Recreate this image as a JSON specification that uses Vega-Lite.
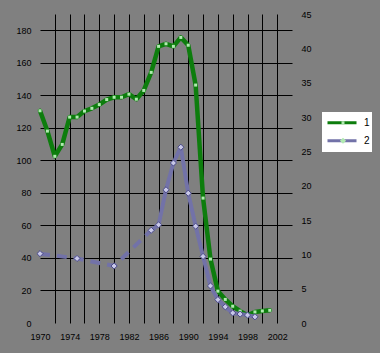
{
  "$schema": "https://vega.github.io/schema/vega-lite/v6.json",
  "width": 252,
  "height": 309,
  "autosize": "none",
  "padding": {"left": 40, "top": 14, "right": 88, "bottom": 30},
  "background": "#808080",
  "config": {
    "view": {"stroke": null, "fill": "#808080"},
    "font": "Liberation Sans",
    "axis": {"labelFont": "Liberation Sans", "labelFontSize": 9, "labelColor": "#000000", "ticks": false, "domain": false, "title": null},
    "legend": {"labelFont": "Liberation Sans"}
  },
  "datasets": {
    "g": [
      {"year": 1970, "v": 130.5, "series": "1"},
      {"year": 1971, "v": 118, "series": "1"},
      {"year": 1972, "v": 102.5, "series": "1"},
      {"year": 1973, "v": 109.8, "series": "1"},
      {"year": 1974, "v": 126.6, "series": "1"},
      {"year": 1975, "v": 126.6, "series": "1"},
      {"year": 1976, "v": 130.3, "series": "1"},
      {"year": 1977, "v": 132, "series": "1"},
      {"year": 1978, "v": 134.3, "series": "1"},
      {"year": 1979, "v": 137.4, "series": "1"},
      {"year": 1980, "v": 138.8, "series": "1"},
      {"year": 1981, "v": 138.8, "series": "1"},
      {"year": 1982, "v": 140.7, "series": "1"},
      {"year": 1983, "v": 137.6, "series": "1"},
      {"year": 1984, "v": 143, "series": "1"},
      {"year": 1985, "v": 154.1, "series": "1"},
      {"year": 1986, "v": 170.1, "series": "1"},
      {"year": 1987, "v": 171.7, "series": "1"},
      {"year": 1988, "v": 170.1, "series": "1"},
      {"year": 1989, "v": 175.6, "series": "1"},
      {"year": 1990, "v": 170.8, "series": "1"},
      {"year": 1991, "v": 146.3, "series": "1"},
      {"year": 1992, "v": 76.8, "series": "1"},
      {"year": 1993, "v": 39.3, "series": "1"},
      {"year": 1994, "v": 19.6, "series": "1"},
      {"year": 1995, "v": 14.5, "series": "1"},
      {"year": 1996, "v": 10.3, "series": "1"},
      {"year": 1997, "v": 7.3, "series": "1"},
      {"year": 1998, "v": 4.8, "series": "1"},
      {"year": 1999, "v": 6.8, "series": "1"},
      {"year": 2000, "v": 7.4, "series": "1"},
      {"year": 2001, "v": 7.8, "series": "1"}
    ],
    "b": [
      {"year": 1970, "v": 10.1, "series": "2"},
      {"year": 1975, "v": 9.4, "series": "2"},
      {"year": 1980, "v": 8.3, "series": "2"},
      {"year": 1985, "v": 13.5, "series": "2"},
      {"year": 1986, "v": 14.3, "series": "2"},
      {"year": 1987, "v": 19.4, "series": "2"},
      {"year": 1988, "v": 23.3, "series": "2"},
      {"year": 1989, "v": 25.6, "series": "2"},
      {"year": 1990, "v": 18.9, "series": "2"},
      {"year": 1991, "v": 14.1, "series": "2"},
      {"year": 1992, "v": 9.7, "series": "2"},
      {"year": 1993, "v": 5.4, "series": "2"},
      {"year": 1994, "v": 3.4, "series": "2"},
      {"year": 1995, "v": 2.35, "series": "2"},
      {"year": 1996, "v": 1.46, "series": "2"},
      {"year": 1997, "v": 1.3, "series": "2"},
      {"year": 1998, "v": 1.15, "series": "2"},
      {"year": 1999, "v": 0.9, "series": "2"}
    ]
  },
  "encoding": {
    "x": {
      "field": "year", "type": "quantitative",
      "scale": {"domain": [1970, 2004], "nice": false, "zero": false},
      "axis": {
        "values": [1970, 1972, 1974, 1976, 1978, 1980, 1982, 1984, 1986, 1988, 1990, 1992, 1994, 1996, 1998, 2000, 2002],
        "format": "d",
        "labelExpr": "datum.value % 4 == 2 ? datum.label : ''",
        "labelFlush": false,
        "labelOverlap": false,
        "labelPadding": 9,
        "grid": true,
        "gridColor": "#000000",
        "gridWidth": 1,
        "gridOpacity": {"condition": {"test": "datum.value == 1970", "value": 0}, "value": 1}
      }
    }
  },
  "layer": [
    {
      "data": {"name": "g"},
      "encoding": {
        "y": {
          "field": "v", "type": "quantitative",
          "scale": {"domain": [0, 190], "nice": false},
          "axis": {
            "orient": "left",
            "values": [0, 20, 40, 60, 80, 100, 120, 140, 160, 180],
            "format": "d",
            "labelPadding": 9,
            "grid": true,
            "gridColor": "#000000",
            "gridWidth": 1,
            "gridOpacity": {"condition": {"test": "datum.value == 0", "value": 0}, "value": 1}
          }
        }
      },
      "layer": [
        {
          "mark": {"type": "line", "strokeWidth": 4.5, "strokeJoin": "round", "strokeCap": "round"},
          "encoding": {
            "color": {
              "field": "series", "type": "nominal",
              "scale": {"domain": ["1", "2"], "range": ["#0d7d0d", "#7272a8"]},
              "legend": {
                "orient": "none", "legendX": 282, "legendY": 98, "title": null,
                "fillColor": "#ffffff", "padding": 2, "symbolType": "stroke", "symbolSize": 841,
                "symbolStrokeWidth": 3, "symbolOffset": 2, "labelFontSize": 10, "labelColor": "#000000",
                "labelOffset": 6, "clipHeight": 17.5, "rowPadding": 0, "values": ["1", "2"],
                "encode": {"symbols": {"update": {"strokeDash": {"value": []}, "opacity": {"value": 1}}}}
              }
            }
          }
        },
        {
          "mark": {"type": "point", "filled": true, "fill": "#b0eab0", "opacity": 1},
          "encoding": {
            "shape": {
              "field": "series", "type": "nominal",
              "scale": {"domain": ["2", "1"], "range": ["diamond", "square"]},
              "legend": {
                "orient": "none", "legendX": 282, "legendY": 98, "title": null,
                "padding": 2, "symbolOffset": 14, "symbolStrokeWidth": 1, "labelFontSize": 10,
                "labelExpr": "''", "labelOffset": 6, "clipHeight": 17.5, "rowPadding": 0, "values": ["1", "2"],
                "encode": {
                  "symbols": {"update": {
                  "fill": {"signal": "datum.value == '1' ? '#b0eab0' : '#c8c8e8'"},
                  "stroke": {"signal": "datum.value == '1' ? 'transparent' : '#4a4a88'"},
                  "strokeWidth": {"value": 1},
                  "opacity": {"value": 1}
                }}}
              }
            },
            "size": {
              "field": "series", "type": "ordinal",
              "scale": {"domain": ["2", "1"], "range": [38, 9]},
              "legend": {
                "orient": "none", "legendX": 282, "legendY": 98, "title": null,
                "padding": 2, "symbolOffset": 14, "symbolStrokeWidth": 1, "labelFontSize": 10,
                "labelExpr": "''", "labelOffset": 6, "clipHeight": 17.5, "rowPadding": 0, "values": ["1", "2"]
              }
            }
          }
        }
      ]
    },
    {
      "data": {"name": "b"},
      "encoding": {
        "y": {
          "field": "v", "type": "quantitative",
          "scale": {"domain": [0, 45], "nice": false},
          "axis": {
            "orient": "right",
            "values": [0, 5, 10, 15, 20, 25, 30, 35, 40, 45],
            "format": "d",
            "labelPadding": 9,
            "grid": false
          }
        }
      },
      "layer": [
        {
          "transform": [{"filter": "datum.year <= 1985"}],
          "mark": {"type": "line", "strokeWidth": 4, "strokeDash": [10, 7]},
          "encoding": {"color": {"field": "series", "type": "nominal"}}
        },
        {
          "transform": [{"filter": "datum.year >= 1985"}],
          "mark": {"type": "line", "strokeWidth": 4, "strokeJoin": "round", "strokeCap": "round"},
          "encoding": {"color": {"field": "series", "type": "nominal"}}
        },
        {
          "mark": {"type": "point", "filled": true, "fill": "#c8c8e8", "stroke": "#4a4a88", "strokeWidth": 1, "opacity": 1},
          "encoding": {
            "shape": {"field": "series", "type": "nominal"},
            "size": {"field": "series", "type": "ordinal"}
          }
        }
      ]
    }
  ],
  "resolve": {"scale": {"y": "independent"}}
}
